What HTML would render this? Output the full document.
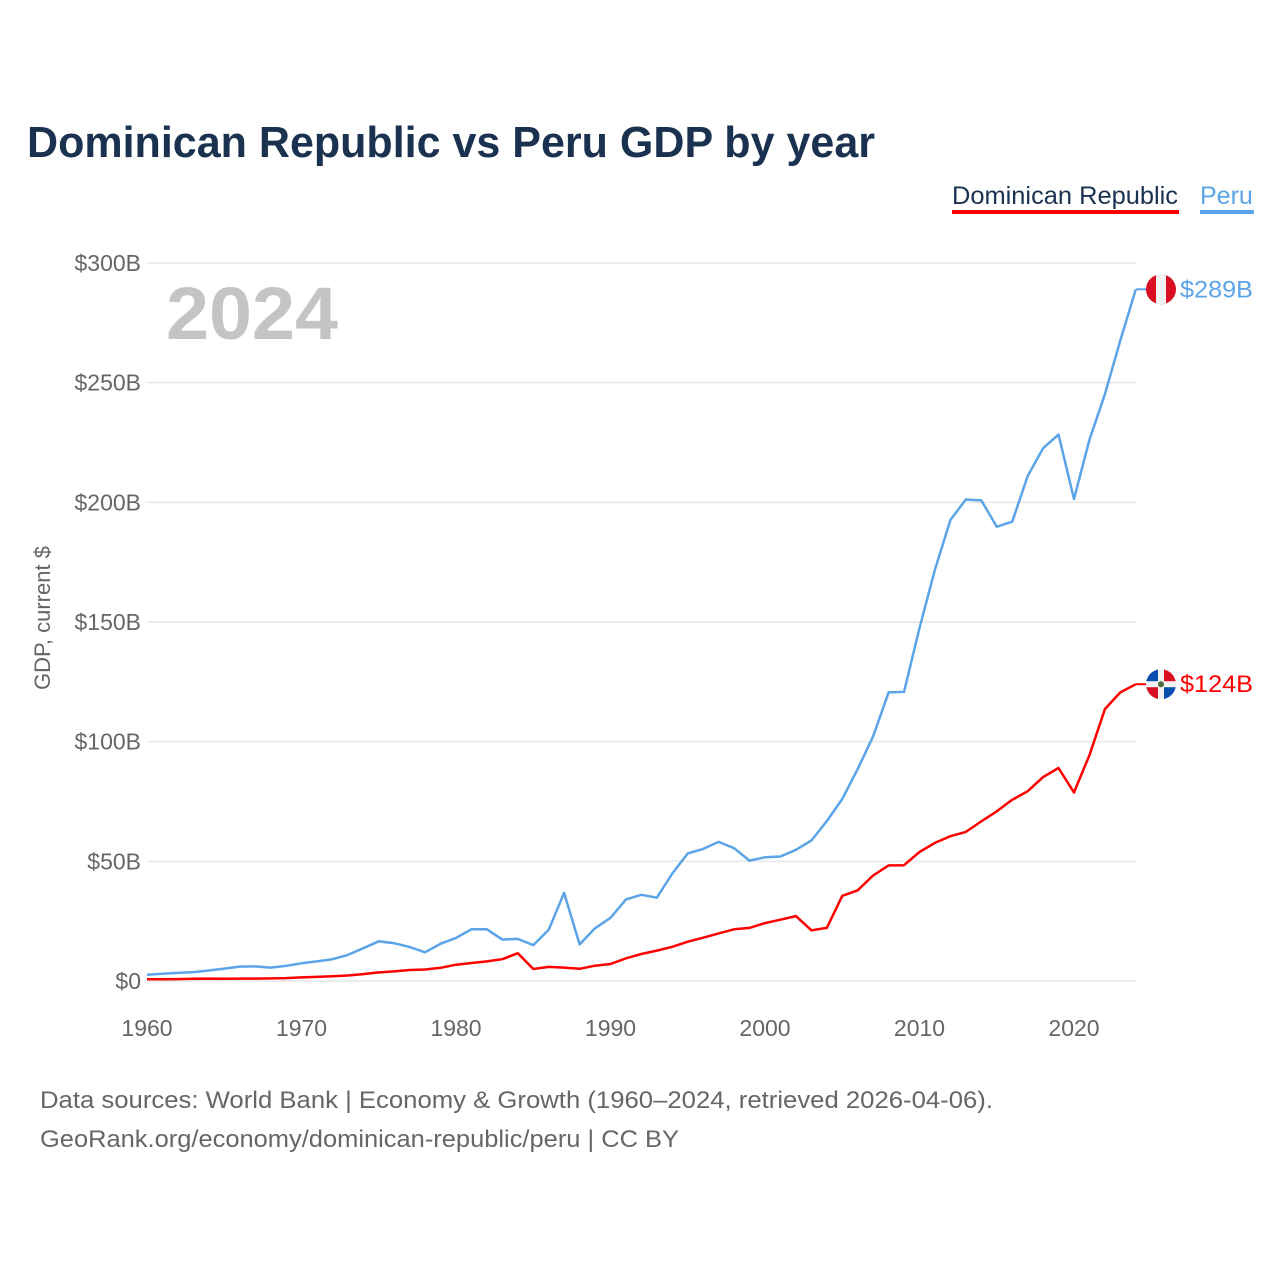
<!DOCTYPE html>
<html><head><meta charset="utf-8"><style>
body{margin:0;background:#fff;font-family:"Liberation Sans",sans-serif}
</style></head><body>
<svg id="chart" width="1280" height="1280" xmlns="http://www.w3.org/2000/svg">
<text x="27" y="157" font-size="44" font-weight="bold" fill="#1b3150" textLength="848" lengthAdjust="spacingAndGlyphs">Dominican Republic vs Peru GDP by year</text>
<g>
<text x="952" y="204" font-size="25" fill="#1b3150" textLength="226" lengthAdjust="spacingAndGlyphs">Dominican Republic</text>
<rect x="952" y="210" width="227" height="4" fill="#ff0000"/>
<text x="1200" y="204" font-size="25" fill="#5ba4e8">Peru</text>
<rect x="1200" y="210" width="54" height="4" fill="#5ba4e8"/>
</g>
<text x="166" y="339" font-size="74" font-weight="bold" fill="#c4c4c4" textLength="172" lengthAdjust="spacingAndGlyphs">2024</text>
<g id="grid"></g>
<g id="yticks"></g>
<g id="xticks"></g>
<text transform="translate(50,618) rotate(-90)" text-anchor="middle" font-size="22" fill="#666">GDP, current $</text>
<g id="series"></g>
<g id="endlabels"></g>
<text x="40" y="1108" font-size="24" fill="#666" textLength="953" lengthAdjust="spacingAndGlyphs">Data sources: World Bank | Economy &amp; Growth (1960–2024, retrieved 2026-04-06).</text>
<text x="40" y="1147" font-size="24" fill="#666" textLength="639" lengthAdjust="spacingAndGlyphs">GeoRank.org/economy/dominican-republic/peru | CC BY</text>
</svg>
<script>
const years = [];
for (let y = 1960; y <= 2024; y++) years.push(y);
const peru = [2.6,3.0,3.4,3.7,4.4,5.2,6.0,6.1,5.6,6.3,7.4,8.2,9.1,10.9,13.7,16.6,15.8,14.2,12.0,15.6,18.0,21.6,21.6,17.3,17.6,15.0,21.4,36.8,15.3,22.0,26.4,34.1,36.0,34.8,44.9,53.3,55.2,58.1,55.5,50.3,51.7,52.0,54.8,58.7,66.8,76.1,88.6,102.2,120.6,120.8,147.5,171.8,192.6,201.2,200.8,189.8,191.9,211.0,222.6,228.3,201.4,226.1,245.2,267.6,289.0];
const dr = [0.7,0.7,0.8,0.9,1.0,0.9,1.0,1.0,1.1,1.2,1.5,1.7,2.0,2.3,2.9,3.6,4.0,4.6,4.8,5.5,6.8,7.5,8.2,9.1,11.6,5.0,5.9,5.6,5.1,6.4,7.1,9.5,11.3,12.7,14.3,16.4,18.1,19.9,21.6,22.2,24.2,25.6,27.1,21.2,22.2,35.6,37.9,44.1,48.3,48.4,53.9,57.7,60.5,62.3,66.7,70.9,75.7,79.3,85.2,89.0,78.8,94.3,113.6,120.6,124.0];
const yTicks = [0,50,100,150,200,250,300];
const yTickLabels = ["$0","$50B","$100B","$150B","$200B","$250B","$300B"];
const xTicks = [1960,1970,1980,1990,2000,2010,2020];

const NS = "http://www.w3.org/2000/svg";
const X = y => 147 + (y - 1960) * (927 / 60);
const Y = v => 981 - v * (718 / 300);
function mk(tag, attrs, parent, text) {
  const e = document.createElementNS(NS, tag);
  for (const k in attrs) e.setAttribute(k, attrs[k]);
  if (text !== undefined) e.textContent = text;
  parent.appendChild(e);
  return e;
}
const grid = document.getElementById('grid'), yt = document.getElementById('yticks'), xt = document.getElementById('xticks');
yTicks.forEach((v, i) => {
  const l = mk('line', {x1: 147, x2: 1136, y1: Y(v), y2: Y(v), stroke: '#e6e6e6', 'stroke-width': 1.5}, grid);
  
  
  const t = mk('text', {x: 141, y: Y(v) + 8, 'text-anchor': 'end', 'font-size': 23, fill: '#666'}, yt, yTickLabels[i]);
  
  
});
xTicks.forEach(y => {
  const t = mk('text', {x: X(y), y: 1036, 'text-anchor': 'middle', 'font-size': 23, fill: '#666'}, xt, String(y));
  
  
});
const series = document.getElementById('series');
function line(vals, color, name) {
  const d = vals.map((v, i) => (i ? 'L' : 'M') + X(years[i]).toFixed(1) + ',' + Y(v).toFixed(1)).join('');
  const p = mk('path', {d: d, fill: 'none', stroke: color, 'stroke-width': 2.5, 'stroke-linejoin': 'round'}, series);
  
  
}
line(peru, '#5ba4e8', 'line-peru');
line(dr, '#ff0000', 'line-dominican-republic');

const el = document.getElementById('endlabels');
function endLabel(v, color, name, flag) {
  const last = X(years[years.length - 1]);
  const cy = Y(v), cx = 1161;
  const ln = mk('line', {x1: last, x2: cx - 14, y1: cy, y2: cy, stroke: color, 'stroke-width': 2}, el);
  
  
  const g = mk('g', {}, el);
  
  
  const cid = 'clip-' + name;
  const cp = mk('clipPath', {id: cid}, g);
  mk('circle', {cx: cx, cy: cy, r: 15}, cp);
  const f = mk('g', {'clip-path': 'url(#' + cid + ')'}, g);
  flag(f, cx, cy);
  const t = mk('text', {x: 1180, y: cy + 8, 'font-size': 24, fill: color, textLength: 73, lengthAdjust: 'spacingAndGlyphs'}, el, '$' + Math.round(v) + 'B');
  
  
}
endLabel(peru[peru.length - 1], '#5ba4e8', 'peru', (f, cx, cy) => {
  mk('rect', {x: cx - 15, y: cy - 15, width: 30, height: 30, fill: '#d91023'}, f);
  mk('rect', {x: cx - 5, y: cy - 15, width: 10, height: 30, fill: '#f2f2f2'}, f);
});
endLabel(dr[dr.length - 1], '#ff0000', 'dominican-republic', (f, cx, cy) => {
  mk('rect', {x: cx - 15, y: cy - 15, width: 30, height: 30, fill: '#f2f2f2'}, f);
  mk('rect', {x: cx - 15, y: cy - 15, width: 12, height: 12, fill: '#0a4fb0'}, f);
  mk('rect', {x: cx + 3, y: cy - 15, width: 12, height: 12, fill: '#d91023'}, f);
  mk('rect', {x: cx - 15, y: cy + 3, width: 12, height: 12, fill: '#d91023'}, f);
  mk('rect', {x: cx + 3, y: cy + 3, width: 12, height: 12, fill: '#0a4fb0'}, f);
  mk('circle', {cx: cx, cy: cy, r: 3, fill: '#4a6a3a'}, f);
});
</script>
</body></html>
